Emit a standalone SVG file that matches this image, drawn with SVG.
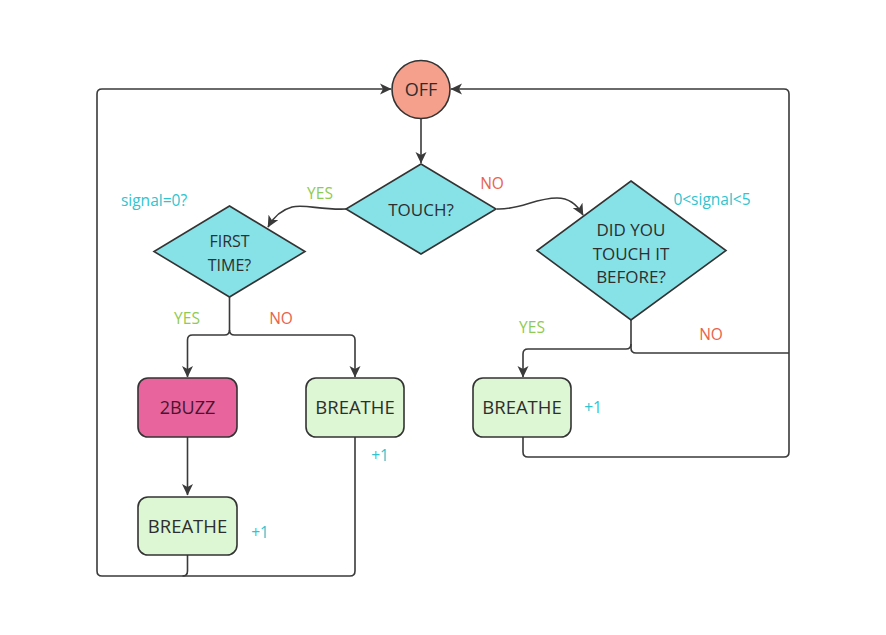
<svg xmlns="http://www.w3.org/2000/svg" width="886" height="635" viewBox="0 0 886 635">
<style>
.ln{fill:none;stroke:#3a3a3a;stroke-width:1.6;stroke-linejoin:round}
.ar{marker-end:url(#ah)}
.tx{font-family:"Open Sans","Liberation Sans",sans-serif;fill:#2e2e2e;text-anchor:middle}
.lb{font-family:"Open Sans","Liberation Sans",sans-serif;font-size:15.5px;text-anchor:middle}
.yes{fill:#8fca52}
.no{fill:#e8634c}
.cy{fill:#2fc4cf}
.dia{fill:#87e2e8;stroke:#333;stroke-width:1.6}
.gr{fill:#ddf6d3;stroke:#333;stroke-width:1.6}
</style>
<defs>
<marker id="ah" viewBox="0 0 12 12" refX="11" refY="6" markerWidth="12" markerHeight="12" markerUnits="userSpaceOnUse" orient="auto">
<path d="M0,0.5 L11.5,6 L0,11.5 L3,6 z" fill="#3a3a3a"/>
</marker>
</defs>
<rect width="886" height="635" fill="#ffffff"/>
<g id="connectors">
<path class="ln ar" d="M421,119 V163"/>
<path class="ln ar" d="M346,209 C320,210 305,204 292,207 C281,210 273,218 268,227"/>
<path class="ln ar" d="M497,209 C520,210 535,198 557,198 C570,198 578,206 583,215"/>
<path class="ln ar" d="M229.5,297 V330 Q229.5,335 224.5,335 H192.5 Q187.5,335 187.5,340 V377"/>
<path class="ln ar" d="M229.5,330 Q229.5,335 234.5,335 H350 Q355,335 355,340 V377"/>
<path class="ln ar" d="M187.5,437 V495"/>
<path class="ln ar" d="M355,437 V571 Q355,576 350,576 H102 Q97,576 97,571 V94 Q97,89 102,89 H391"/>
<path class="ln" d="M187.5,555 V571 Q187.5,576 182.5,576"/>
<path class="ln ar" d="M631,320 V344 Q631,349 626,349 H528 Q523,349 523,354 V377"/>
<path class="ln" d="M631,344 V348 Q631,353 636,353 H789"/>
<path class="ln ar" d="M523,437 V452 Q523,457 528,457 H784 Q789,457 789,452 V94 Q789,89 784,89 H451"/>
</g>
<g id="off">
<circle cx="421" cy="89.5" r="29" fill="#f5a08c" stroke="#333" stroke-width="1.6"/>
<text class="tx" x="421" y="96" font-size="18">OFF</text>
</g>
<g id="touch">
<polygon class="dia" points="421,164 496,209 421,254 346,209"/>
<text class="tx" x="421" y="216" font-size="17">TOUCH?</text>
</g>
<g id="first-time">
<polygon class="dia" points="229.5,206 305,251.5 229.5,297 154,251.5"/>
<text class="tx" x="229.5" y="247" font-size="16">FIRST</text>
<text class="tx" x="229.5" y="271" font-size="16">TIME?</text>
</g>
<g id="did-you">
<polygon class="dia" points="631,181 726,250.5 631,320 537,250.5"/>
<text class="tx" x="631" y="236" font-size="17">DID YOU</text>
<text class="tx" x="631" y="259.5" font-size="17">TOUCH IT</text>
<text class="tx" x="631" y="283" font-size="17">BEFORE?</text>
</g>
<g id="buzz">
<rect x="138" y="378" width="99" height="59" rx="10" fill="#e8649c" stroke="#333" stroke-width="1.6"/>
<text class="tx" x="187.5" y="414" font-size="18" style="fill:#4a1530">2BUZZ</text>
</g>
<g id="breathe-mid">
<rect class="gr" x="306" y="378" width="98" height="59" rx="10"/>
<text class="tx" x="355" y="414" font-size="18.5">BREATHE</text>
</g>
<g id="breathe-left">
<rect class="gr" x="138" y="497" width="99" height="58" rx="10"/>
<text class="tx" x="187.5" y="532.5" font-size="18.5">BREATHE</text>
</g>
<g id="breathe-right">
<rect class="gr" x="473" y="378" width="98" height="59" rx="10"/>
<text class="tx" x="522" y="414" font-size="18.5">BREATHE</text>
</g>
<g id="labels">
<text class="lb yes" x="320" y="199">YES</text>
<text class="lb no" x="492" y="189">NO</text>
<text class="lb cy" x="154" y="206" font-size="17">signal=0?</text>
<text class="lb cy" x="712" y="204.5" font-size="16.5">0&lt;signal&lt;5</text>
<text class="lb yes" x="187" y="324">YES</text>
<text class="lb no" x="281" y="324">NO</text>
<text class="lb yes" x="532" y="333">YES</text>
<text class="lb no" x="711" y="340">NO</text>
<text class="lb cy" x="380" y="461">+1</text>
<text class="lb cy" x="260" y="538">+1</text>
<text class="lb cy" x="593" y="413">+1</text>
</g>
</svg>
